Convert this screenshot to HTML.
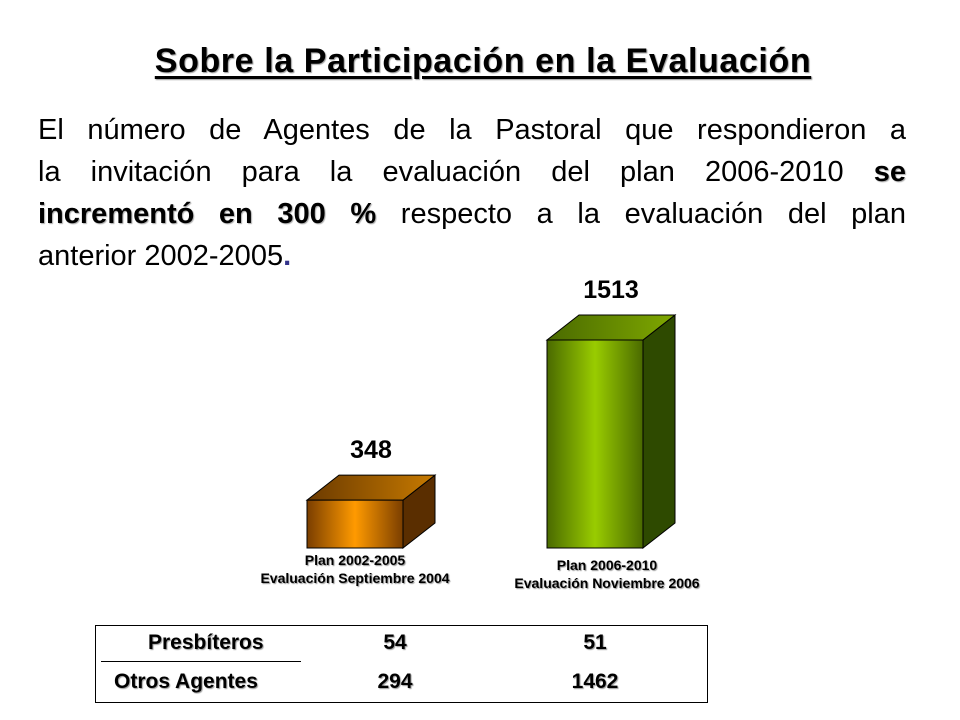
<!DOCTYPE html>
<html><head><meta charset="utf-8"><style>
body{margin:0;width:960px;height:720px;background:#fff;position:relative;overflow:hidden;font-family:"Liberation Sans",Arial,sans-serif;color:#000}
.abs{position:absolute}
.title{left:0;width:966px;top:42px;text-align:center;font-weight:bold;font-size:34px;letter-spacing:0.6px;text-decoration:underline;text-decoration-thickness:3px;text-underline-offset:4px;text-shadow:1px 1px 1px #999}
.ln{left:38px;width:868px;font-size:29px;text-align:justify;text-align-last:justify;white-space:nowrap;line-height:34px}
.ln b{text-shadow:1px 1px 1px #aaa}
.cat{font-weight:bold;font-size:14px;text-align:center;text-shadow:1px 1px 1px #999;line-height:18px}
.cell{font-weight:bold;font-size:21px;text-shadow:1px 1px 1px #999}
</style></head><body>
<div class="abs title">Sobre la Participación en la Evaluación</div>
<div>
<div class="abs ln" style="top:113px">El número de Agentes de la Pastoral que respondieron a</div>
<div class="abs ln" style="top:155px">la invitación para la evaluación del plan 2006-2010 <b>se</b></div>
<div class="abs ln" style="top:197px"><b>incrementó en 300 %</b> respecto a la evaluación del plan</div>
<div class="abs" style="left:38px;top:239px;font-size:29px;line-height:34px">anterior 2002-2005<b style="color:#33338a">.</b></div>
</div>
<svg class="abs" style="left:0;top:0" width="960" height="720">
<defs>
<linearGradient id="go" x1="0" x2="1"><stop offset="0" stop-color="#7a3e00"/><stop offset="0.5" stop-color="#ff9a00"/><stop offset="1" stop-color="#7a3e00"/></linearGradient>
<linearGradient id="gg" x1="0" x2="1"><stop offset="0" stop-color="#4a6a00"/><stop offset="0.5" stop-color="#99cc00"/><stop offset="1" stop-color="#4a6a00"/></linearGradient>
<linearGradient id="to" x1="0" x2="1"><stop offset="0" stop-color="#6b3a00"/><stop offset="1" stop-color="#c77a00"/></linearGradient>
<linearGradient id="tg" x1="0" x2="1"><stop offset="0" stop-color="#4a6a00"/><stop offset="1" stop-color="#7fa800"/></linearGradient>
</defs>
<g id="bars"></g>
</svg>
<div class="abs cat" style="left:255px;width:200px;top:551px">Plan 2002-2005<br>Evaluación Septiembre 2004</div>
<div class="abs cat" style="left:497px;width:220px;top:556px">Plan 2006-2010<br>Evaluación Noviembre 2006</div>
<div class="abs" style="left:95px;top:625px;width:611px;height:76px;border:1px solid #000">
<div class="abs" style="left:5px;top:35px;width:200px;border-top:1px solid #000"></div>
<div class="abs cell" style="left:52px;top:5px">Presbíteros</div>
<div class="abs cell" style="left:214px;width:170px;top:5px;text-align:center">54</div>
<div class="abs cell" style="left:414px;width:170px;top:5px;text-align:center">51</div>
<div class="abs cell" style="left:18px;top:44px">Otros Agentes</div>
<div class="abs cell" style="left:214px;width:170px;top:44px;text-align:center">294</div>
<div class="abs cell" style="left:414px;width:170px;top:44px;text-align:center">1462</div>
</div>
<script>
const categories=["Plan 2002-2005","Plan 2006-2010"];
const totals=[348,1513];
const valueLabels=["348","1513"];
const baseY=548, scale=208/1513, barW=96, dx=32, dy=25;
const xs=[307,547];
const fills=[["url(#go)","url(#to)","#5a2e00"],["url(#gg)","url(#tg)","#2e4a00"]];
const ns="http://www.w3.org/2000/svg";
const g=document.getElementById('bars');
function yPos(v){return baseY-v*scale;}
totals.forEach((v,i)=>{
  const x=xs[i], y=yPos(v);
  const side=document.createElementNS(ns,'polygon');
  
  
  side.setAttribute('points',`${x+barW},${y} ${x+barW+dx},${y-dy} ${x+barW+dx},${baseY-dy} ${x+barW},${baseY}`);
  side.setAttribute('fill',fills[i][2]);side.setAttribute('stroke','#000');side.setAttribute('stroke-width','1');
  g.appendChild(side);
  const top=document.createElementNS(ns,'polygon');
  
  
  top.setAttribute('points',`${x},${y} ${x+dx},${y-dy} ${x+barW+dx},${y-dy} ${x+barW},${y}`);
  top.setAttribute('fill',fills[i][1]);top.setAttribute('stroke','#000');top.setAttribute('stroke-width','1');
  g.appendChild(top);
  const r=document.createElementNS(ns,'rect');
  
  
  r.setAttribute('x',x);r.setAttribute('y',y);r.setAttribute('width',barW);r.setAttribute('height',baseY-y);
  r.setAttribute('fill',fills[i][0]);r.setAttribute('stroke','#000');r.setAttribute('stroke-width','1');
  g.appendChild(r);
  const t=document.createElementNS(ns,'text');
  
  
  t.setAttribute('x',x+barW/2+16);t.setAttribute('y',y-dy-17);
  t.setAttribute('text-anchor','middle');t.setAttribute('font-size','25');t.setAttribute('font-weight','bold');
  t.setAttribute('font-family','Liberation Sans, Arial, sans-serif');
  t.textContent=valueLabels[i];
  g.appendChild(t);
});
</script>
</body></html>
